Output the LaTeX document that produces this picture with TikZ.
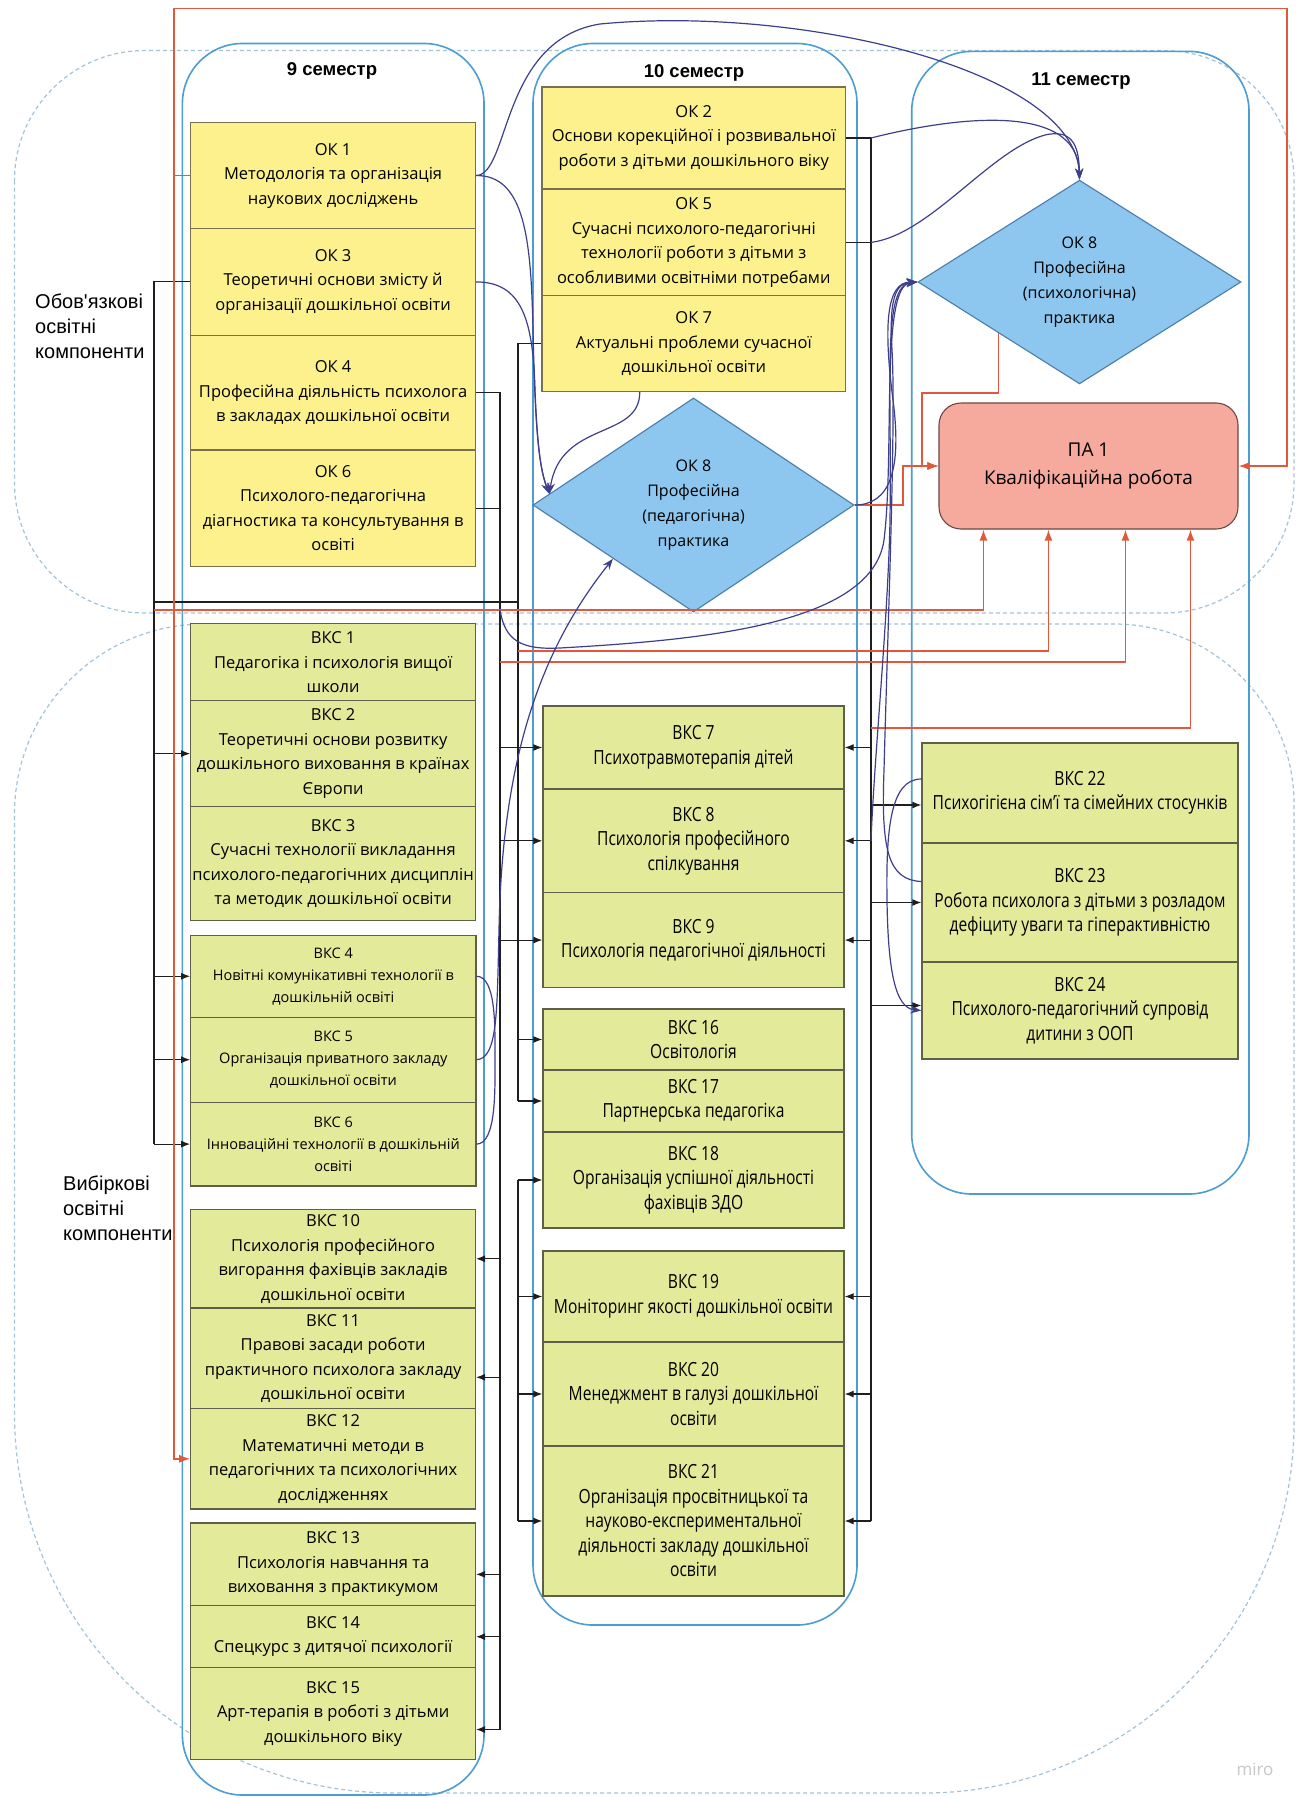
\documentclass[tikz,border=0pt]{standalone}
\usepackage{fontspec}
\setmainfont{Open Sans}
\newfontfamily\headfont{Liberation Sans}
\newfontfamily\condfont[FakeStretch=0.8]{Open Sans}
\usetikzlibrary{shapes.geometric, arrows.meta}

\definecolor{okfill}{HTML}{FDF18E}
\definecolor{okline}{HTML}{77714F}
\definecolor{vksfill}{HTML}{E3EB9A}
\definecolor{vksline}{HTML}{5E6147}
\definecolor{pracfill}{HTML}{8DC6EE}
\definecolor{pracline}{HTML}{4B7DAA}
\definecolor{pafill}{HTML}{F5AA9D}
\definecolor{paline}{HTML}{6A4844}
\definecolor{colblue}{HTML}{4C9DD3}
\definecolor{zoneblue}{HTML}{A3C3D8}
\definecolor{linkred}{HTML}{E2583B}
\definecolor{linknavy}{HTML}{3E3F8C}
\definecolor{linkblack}{HTML}{1E1E1E}

\tikzset{
  zone/.style={draw=zoneblue, line width=1.2pt, dash pattern=on 4pt off 3pt},
  semcol/.style={draw=colblue, line width=1.6pt, rounded corners=60pt},
  semtitle/.style={font=\headfont\bfseries\fontsize{18.5}{22}\selectfont},
  grouplabel/.style={font=\headfont\fontsize{20}{25}\selectfont, align=left, anchor=north west, inner sep=0pt},
  okbox/.style={draw=okline, fill=okfill, line width=1.1pt, inner sep=0pt, align=center, font=\fontsize{16.5}{24.5}\selectfont},
  vksbox/.style={okbox, draw=vksline, fill=vksfill},
  vkssmall/.style={vksbox, font=\fontsize{14.5}{22}\selectfont},
  vkscond/.style={vksbox, line width=1.4pt, font=\condfont\fontsize{19.5}{24.5}\selectfont},
  prac/.style={shape=diamond, draw=pracline, fill=pracfill, line width=1.1pt, inner sep=0pt, align=center, font=\fontsize{16}{25}\selectfont},
  final/.style={draw=paline, fill=pafill, line width=1.1pt, rounded corners=22pt, minimum width=299pt, minimum height=126pt, inner sep=0pt, align=center, font=\fontsize{19}{28}\selectfont},
  conn/.style={draw=linkblack, line width=1.1pt},
  connarr/.style={conn, -{Latex[length=9pt,width=7pt]}},
  redconn/.style={draw=linkred, line width=1.5pt},
  redarr/.style={redconn, -{Latex[length=11pt,width=8pt]}},
  navconn/.style={draw=linknavy, line width=1.2pt},
  navarr/.style={navconn, -{Stealth[length=11pt,width=8pt]}},
}

\begin{document}
\begin{tikzpicture}[x=1pt, y=-1pt]
    \fill[white] (0,0) rectangle (1299,1798);
    \useasboundingbox (0,0) rectangle (1299,1798);

    % Zones
    \draw[zone, rounded corners=130pt] (14.5,50.6) rectangle (1294,613);
    \draw[zone] (14.5,1100) -- (14.5,814) arc[start angle=180, end angle=270, radius=190]
        -- (1114,624) arc[start angle=270, end angle=360, radius=180]
        -- (1294,1423) arc[start angle=0, end angle=90, radius=370]
        -- (394.5,1793) arc[start angle=90, end angle=180, radius=380] -- cycle;

    % Semesters
    \draw[semcol] (182.4,43.5) rectangle (484,1795);
    \draw[semcol] (533,43.5) rectangle (857,1625);
    \draw[semcol] (911.7,51.4) rectangle (1249,1194);
    \node[semtitle] (t9) at (332,71) {9 семестр};
    \node[semtitle] (t10) at (694,73) {10 семестр};
    \node[semtitle] (t11) at (1081,81) {11 семестр};

    \node[grouplabel] (oblabel) at (35,294) {Обов'язкові\\освітні\\компоненти};
    \node[grouplabel] (vblabel) at (63,1176) {Вибіркові\\освітні\\компоненти};

    % 9 semester
    \foreach \n/\y/\h/\t in {
        ok1/175.55/105.9/{ОК 1\\Методологія та організація\\наукових досліджень},
        ok3/281.9/106.8/{ОК 3\\Теоретичні основи змісту й\\організації дошкільної освіти},
        ok4/392.65/114.7/{ОК 4\\Професійна діяльність психолога\\в закладах дошкільної освіти},
        ok6/508.1/116.2/{ОК 6\\Психолого-педагогічна\\діагностика та консультування в\\освіті}} {
        \node[okbox, minimum width=284.8pt, minimum height=\h pt] (\n) at (333.1,\y) {\t};
    }
    \foreach \n/\y/\h/\t in {
        vks1/662.25/77.1/{ВКС 1\\Педагогіка і психологія вищої\\школи},
        vks2/753.6/105.6/{ВКС 2\\Теоретичні основи розвитку\\дошкільного виховання в країнах\\Європи},
        vks3/863.35/113.9/{ВКС 3\\Сучасні технології викладання\\психолого-педагогічних дисциплін\\та методик дошкільної освіти},
        vks10/1258.8/98.4/{ВКС 10\\Психологія професійного\\вигорання фахівців закладів\\дошкільної освіти},
        vks11/1358.3/100.6/{ВКС 11\\Правові засади роботи\\практичного психолога закладу\\дошкільної освіти},
        vks12/1458.8/100.4/{ВКС 12\\Математичні методи в\\педагогічних та психологічних\\дослідженнях},
        vks13/1564.35/82.7/{ВКС 13\\Психологія навчання та\\виховання з практикумом},
        vks14/1636.65/61.9/{ВКС 14\\Спецкурс з дитячої психології},
        vks15/1713.5/91.8/{ВКС 15\\Арт-терапія в роботі з дітьми\\дошкільного віку}} {
        \node[vksbox, minimum width=284.8pt, minimum height=\h pt] (\n) at (333.1,\y) {\t};
    }
    \foreach \n/\y/\h/\t in {
        vks4/976.25/81.9/{ВКС 4\\Новітні комунікативні технології в\\дошкільній освіті},
        vks5/1059.7/85/{ВКС 5\\Організація приватного закладу\\дошкільної освіти},
        vks6/1144.1/83.8/{ВКС 6\\Інноваційні технології в дошкільній\\освіті}} {
        \node[vkssmall, minimum width=285.3pt, minimum height=\h pt] (\n) at (333.3,\y) {\t};
    }

    % 10 semester
    \foreach \n/\y/\h/\t in {
        ok2/138/102/{ОК 2\\Основи корекційної і розвивальної\\роботи з дітьми дошкільного віку},
        ok5/242.4/106.8/{ОК 5\\Сучасні психолого-педагогічні\\технології роботи з дітьми з\\особливими освітніми потребами},
        ok7/343.65/95.7/{ОК 7\\Актуальні проблеми сучасної\\дошкільної освіти}} {
        \node[okbox, minimum width=303.5pt, minimum height=\h pt] (\n) at (693.75,\y) {\t};
    }
    \node[prac, minimum width=321pt, minimum height=214pt] (d10) at (693.5,505) {ОК 8\\Професійна\\(педагогічна)\\практика};
    \foreach \n/\y/\h/\t in {
        vks7/747.5/83/{ВКС 7\\Психотравмотерапія дітей},
        vks8/840.8/103.6/{ВКС 8\\Психологія професійного\\спілкування},
        vks9/940.05/94.9/{ВКС 9\\Психологія педагогічної діяльності},
        vks16/1039.5/61/{ВКС 16\\Освітологія},
        vks17/1101/62/{ВКС 17\\Партнерська педагогіка},
        vks18/1180/96/{ВКС 18\\Організація успішної діяльності\\фахівців ЗДО},
        vks19/1296.5/91/{ВКС 19\\Моніторинг якості дошкільної освіти},
        vks20/1394/104/{ВКС 20\\Менеджмент в галузі дошкільної\\освіти},
        vks21/1521/150/{ВКС 21\\Організація просвітницької та\\науково-експериментальної\\діяльності закладу дошкільної\\освіти}} {
        \node[vkscond, minimum width=301pt, minimum height=\h pt] (\n) at (693.5,\y) {\t};
    }

    % 11 semester
    \node[prac, minimum width=323pt, minimum height=202pt] (d11) at (1079.5,282) {ОК 8\\Професійна\\(психологічна)\\практика};
    \node[final] (pa1) at (1088.5,466) {ПА 1\\Кваліфікаційна робота};
    \foreach \n/\y/\h/\t in {
        vks22/793/100/{ВКС 22\\Психогігієна сім’ї та сімейних стосунків},
        vks23/902.5/119/{ВКС 23\\Робота психолога з дітьми з розладом\\дефіциту уваги та гіперактивністю},
        vks24/1010.5/97/{ВКС 24\\Психолого-педагогічний супровід\\дитини з ООП}} {
        \node[vkscond, minimum width=316pt, minimum height=\h pt] (\n) at (1080,\y) {\t};
    }

    \node[font=\fontsize{17}{20}\selectfont, text=black!22] (miro) at (1255,1769) {miro};

    % Trunk lines
    \coordinate (tL) at (154,0);
    \coordinate (tA) at (500,0);
    \coordinate (tB) at (518,0);
    \coordinate (tC) at (871,0);
    \coordinate (rL) at (174,0);
    \coordinate (rR) at (1287,0);
    \coordinate (rM) at (903,0);
    \coordinate (rTop) at (0,8.7);
    \coordinate (hB) at (0,602);
    \coordinate (h1) at (0,610);
    \coordinate (h2) at (0,651);
    \coordinate (h3) at (0,662);
    \coordinate (h4) at (0,728);
    \coordinate (rKnee) at (922,393);
    \coordinate (aEnd) at (500,1730);

    % Black arrows
    \draw[conn] (ok3.west) -- (ok3.west -| tL) -- (tL |- vks6.west);
    \draw[conn] (hB -| tL) -- (hB -| tB);
    \foreach \b in {vks2,vks4,vks5,vks6}
        \draw[connarr] (\b.west -| tL) -- (\b.west);
    \draw[conn] (ok7.west) -- (ok7.west -| tB) -- (tB |- vks17.west);
    \draw[conn] (tB |- vks18.west) -- (tB |- vks21.west);
    \foreach \b in {vks16,vks17,vks18,vks19,vks20,vks21}
        \draw[connarr] (\b.west -| tB) -- (\b.west);
    \draw[conn] (ok4.east) -- (ok4.east -| tA) -- (aEnd);
    \draw[conn] (ok6.east) -- (ok6.east -| tA);
    \foreach \b in {vks7,vks8,vks9}
        \draw[connarr] (\b.west -| tA) -- (\b.west);
    \foreach \b/\d in {vks10/0,vks11/-19,vks13/-10,vks14/0,vks15/-16}
        \draw[connarr] ([yshift=\d pt]\b.east) ++(24.5,0) -- ([yshift=\d pt]\b.east);
    \draw[conn] (ok2.east) -- (ok2.east -| tC) -- (tC |- vks21.east);
    \draw[conn] (ok5.east) -- (ok5.east -| tC);
    \foreach \b in {vks7,vks8,vks9,vks19,vks20,vks21}
        \draw[connarr] (\b.east -| tC) -- (\b.east);
    \foreach \b/\d in {vks22/-12,vks23/0,vks24/5}
        \draw[connarr] ([yshift=\d pt]\b.west) ++(-51,0) -- ([yshift=\d pt]\b.west);

    % Red arrows
    \draw[redarr] (ok1.west) -| (rL |- rTop) -| (rR |- pa1.east) -- (pa1.east);
    \draw[redarr] (ok1.west -| rL) |- (vks12.west);
    \draw[redarr] (h1 -| tL) -| ([xshift=45pt]pa1.south west);
    \draw[redarr] (h2 -| tB) -| ([xshift=110pt]pa1.south west);
    \draw[redarr] (h3 -| tA) -| ([xshift=187pt]pa1.south west);
    \draw[redarr] (h4 -| tC) -| ([xshift=252pt]pa1.south west);
    \draw[redarr] (d10.east) -- (d10.east -| rM) |- (pa1.west);
    \draw[redarr] (d11.south west) |- (rKnee) |- (pa1.west);

    % Blue arrows
    \draw[navarr] (ok1.east) .. controls (510,175) and (500,40) .. (600,24) .. controls (800,5) and (1075,70) .. (d11.north);
    \draw[navarr] (ok2.east -| tC) .. controls (950,118) and (1078,100) .. (d11.north);
    \draw[navarr] (ok5.east -| tC) .. controls (930,235) and (990,150) .. (1045,135) .. controls (1075,128) and (1079,150) .. (d11.north);
    \draw[navarr] (ok1.east) .. controls (525,175) and (531,240) .. (533,330) .. controls (535,420) and (538,465) .. ([xshift=17pt,yshift=11pt]d10.west);
    \draw[navarr] (ok3.east) .. controls (522,282) and (533,320) .. (535,390) .. controls (537,440) and (540,470) .. ([xshift=17pt,yshift=11pt]d10.west);
    \draw[navarr] ([xshift=-54pt]ok7.south) .. controls (640,440) and (560,420) .. ([xshift=17pt,yshift=11pt]d10.west);
    \draw[navarr] (vks5.east) .. controls (498,1059) and (497,1010) .. (499,930) .. controls (502,760) and (540,650) .. (d10.south west);
    \draw[navconn] (vks4.east) .. controls +(20,0) and +(0,-30) .. (495,1059) .. controls +(0,30) and +(20,0) .. (vks6.east);
    \draw[navarr] (d10.east) .. controls (890,505) and (902,470) .. (893,400) .. controls (884,330) and (885,282) .. (d11.west);
    \draw[navarr] (h1 -| tA) .. controls (505,640) and (520,650) .. (560,648) .. controls (700,640) and (872,625) .. (884,540) .. controls (895,450) and (880,285) .. (d11.west);
    \draw[navarr] (vks8.east -| tC) .. controls (874,760) and (888,620) .. (890,520) .. controls (892,380) and (882,286) .. (d11.west);
    \draw[navarr] ([yshift=21pt]vks23.west) .. controls (888,880) and (881,850) .. (884,770) .. controls (888,620) and (896,420) .. (892,350) .. controls (889,300) and (895,283) .. (d11.west);
    \draw[navarr] ([yshift=14pt]vks22.west) .. controls (890,779) and (886,830) .. (887,900) .. controls (888,970) and (895,1008) .. (vks24.west);
\end{tikzpicture}
\end{document}
